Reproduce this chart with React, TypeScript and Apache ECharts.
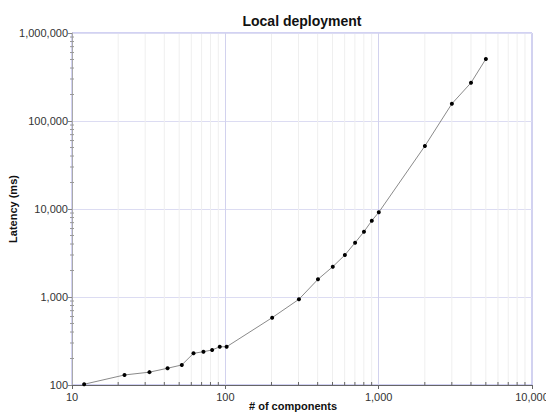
import React, { useEffect, useRef } from "react";
import * as echarts from "echarts";

const components = [12, 22, 32, 42, 52, 62, 72, 82, 92, 102, 202, 302, 402, 502, 602, 702, 802, 902, 1002, 2002, 3002, 4002, 5002];
const latency = [102, 130, 140, 155, 169, 229, 239, 250, 272, 272, 582, 942, 1589, 2210, 3000, 4140, 5520, 7370, 9180, 52000, 157000, 272000, 507000];
const xMinor = [20, 30, 40, 50, 60, 70, 80, 90, 200, 300, 400, 500, 600, 700, 800, 900, 2000, 3000, 4000, 5000, 6000, 7000, 8000, 9000];
const yMinor = [200, 300, 400, 500, 600, 700, 800, 900, 2000, 3000, 4000, 5000, 6000, 7000, 8000, 9000, 20000, 30000, 40000, 50000, 60000, 70000, 80000, 90000, 200000, 300000, 400000, 500000, 600000, 700000, 800000, 900000];

const FONT = "Liberation Sans";

export default function App() {
  const ref = useRef<HTMLDivElement>(null);
  useEffect(() => {
    if (!ref.current) return;
    const chart = echarts.init(ref.current, null, { renderer: "svg" });
    const fmt = (v: number) => Math.round(v).toLocaleString("en-US");
    chart.setOption({
      animation: false,
      backgroundColor: "#ffffff",
      textStyle: { fontFamily: FONT },
      title: {
        text: "Local deployment",
        left: 297,
        textAlign: "center",
        top: 9,
        textStyle: { fontFamily: FONT, fontSize: 14, fontWeight: "bold", color: "#111" },
      },
      grid: {
        left: 72, right: 14, top: 33, bottom: 27, containLabel: false, outerBoundsMode: "none",
        show: true, borderColor: "#a4a4e6", borderWidth: 1, backgroundColor: "transparent",
      },
      xAxis: {
        type: "log",
        logBase: 10,
        min: 10,
        max: 10000,
        name: "# of components",
        nameLocation: "middle",
        nameGap: 15,
        nameMoveOverlap: false,
        nameTextStyle: { fontFamily: FONT, fontSize: 11, fontWeight: "bold", color: "#111", padding: [0, 18, 0, 0] },
        axisLine: { show: true, lineStyle: { color: "#666", width: 1 } },
        axisTick: { show: true, length: 4, lineStyle: { color: "#666" } },
        axisLabel: { formatter: fmt, fontFamily: FONT, fontSize: 11, color: "#333", margin: 6 },
        splitLine: { show: true, lineStyle: { color: "#d2d2ee", width: 1 } },
      },
      yAxis: {
        type: "log",
        logBase: 10,
        min: 100,
        max: 1000000,
        name: "Latency (ms)",
        nameLocation: "middle",
        nameGap: 54,
        nameMoveOverlap: false,
        nameTextStyle: { fontFamily: FONT, fontSize: 11, fontWeight: "bold", color: "#111" },
        axisLine: { show: true, lineStyle: { color: "#aaa", width: 1 } },
        axisTick: { show: true, length: 4, lineStyle: { color: "#888" } },
        axisLabel: { formatter: fmt, fontFamily: FONT, fontSize: 11, color: "#333", margin: 4 },
        splitLine: { show: true, lineStyle: { color: "#dcdcf2", width: 1 } },
      },
      series: [
        {
          type: "custom",
          silent: true,
          z: 0,
          data: xMinor.map((v) => [v]),
          encode: { x: 0 },
          renderItem: (params: any, api: any) => {
            const v = api.value(0);
            const top = api.coord([v, 1000000]);
            const bot = api.coord([v, 100]);
            return {
              type: "group",
              children: [
                { type: "line", shape: { x1: top[0], y1: top[1] + 1, x2: bot[0], y2: bot[1] - 1 }, style: { stroke: "#efefef", lineWidth: 1 } },
                { type: "line", shape: { x1: bot[0], y1: bot[1], x2: bot[0], y2: bot[1] - 3 }, style: { stroke: "#666", lineWidth: 1 } },
              ],
            };
          },
        },
        {
          type: "custom",
          silent: true,
          z: 1,
          data: yMinor.map((v) => [10, v]),
          encode: { x: 0, y: 1 },
          renderItem: (params: any, api: any) => {
            const p = api.coord([10, api.value(1)]);
            return {
              type: "line",
              shape: { x1: p[0] - 2, y1: p[1], x2: p[0] + 2, y2: p[1] },
              style: { stroke: "#999", lineWidth: 1 },
            };
          },
        },
        {
          type: "line",
          data: components.map((c, i) => [c, latency[i]]),
          symbol: "circle",
          symbolSize: 4,
          z: 5,
          lineStyle: { color: "#8a8a8a", width: 1 },
          itemStyle: { color: "#000" },
        },
      ],
    });
    return () => chart.dispose();
  }, []);
  return <div ref={ref} style={{ width: 546, height: 412, position: "absolute", left: 0, top: 0 }} />;
}
